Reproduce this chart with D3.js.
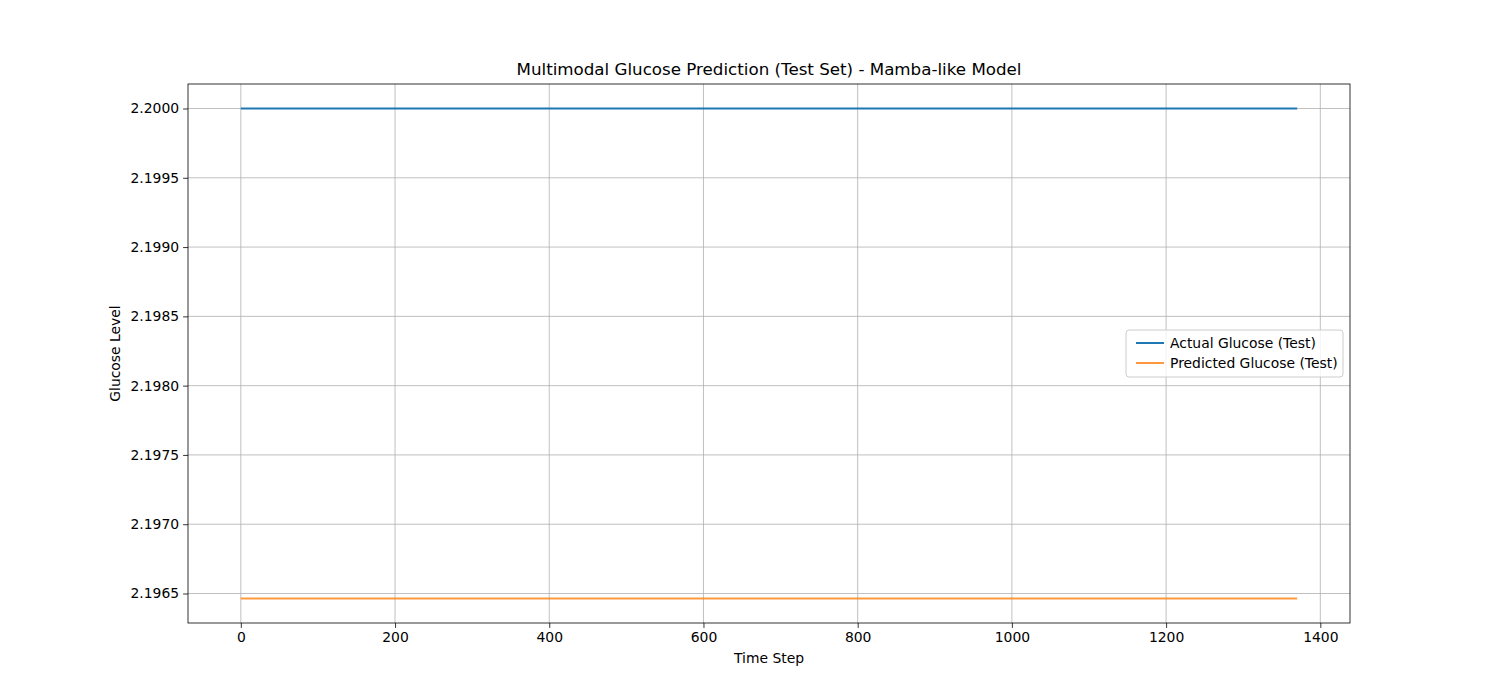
<!DOCTYPE html>
<html>
<head>
<meta charset="UTF-8">
<script src="https://d3js.org/d3.v7.min.js"></script>
<style>
    body{ margin: 0; background: white; }
    svg text{ font-family: "DejaVu Sans", sans-serif; }
</style>
</head>
<body>
<div id="chart"></div>
<script>
    // the model's output is flat over the whole test set, so two ends per series
    const steps = [0, 1370]
    const actual = [2.2, 2.2]
    const predicted = [2.196464, 2.196464]
    const xTicks = [0, 200, 400, 600, 800, 1000, 1200, 1400]
    const yTicks = [2.1965, 2.1970, 2.1975, 2.1980, 2.1985, 2.1990, 2.1995, 2.2000]
    const series = [
        {name: 'Actual Glucose (Test)', values: actual, color: '#1f77b4'},
        {name: 'Predicted Glucose (Test)', values: predicted, color: '#ff7f0e', opacity: 0.8}
    ]

    const L = 188, R = 1350, T = 84, B = 623

    const svg = d3.select('#chart').append('svg')
        .attr('width', 1500).attr('height', 700)

    const xPad = (d3.max(steps) - d3.min(steps)) * 0.05
    const x = d3.scaleLinear().domain([d3.min(steps) - xPad, d3.max(steps) + xPad]).range([L, R])
    const all = actual.concat(predicted)
    const yPad = (d3.max(all) - d3.min(all)) * 0.05
    const y = d3.scaleLinear().domain([d3.min(all) - yPad, d3.max(all) + yPad]).range([B, T])

    // grid
    svg.append('g').selectAll('line').data(xTicks).join('line')
        .attr('x1', d => x(d)).attr('x2', d => x(d)).attr('y1', T).attr('y2', B)
        .attr('stroke', '#b0b0b0').attr('stroke-width', 0.8)
    svg.append('g').selectAll('line').data(yTicks).join('line')
        .attr('y1', d => y(d)).attr('y2', d => y(d)).attr('x1', L).attr('x2', R)
        .attr('stroke', '#b0b0b0').attr('stroke-width', 0.8)

    const line = vals => d3.line().x((d, i) => x(steps[i])).y(d => y(d))(vals)
    series.forEach(s => {
        svg.append('path').attr('d', line(s.values)).attr('fill', 'none')
            .attr('stroke', s.color).attr('stroke-width', 2).attr('opacity', s.opacity || 1)
    })

    const xAxis = svg.append('g').attr('transform', `translate(0,${B})`)
        .call(d3.axisBottom(x).tickValues(xTicks).tickSize(4.9).tickPadding(4).tickFormat(d3.format('d')))
    const yAxis = svg.append('g').attr('transform', `translate(${L},0)`)
        .call(d3.axisLeft(y).tickValues(yTicks).tickSize(4.9).tickPadding(4).tickFormat(d3.format('.4f')))
    ;[xAxis, yAxis].forEach(a => {
        a.select('.domain').remove()
        a.selectAll('text').attr('font-size', 13.9).attr('fill', 'black')
        a.selectAll('line').attr('stroke', 'black').attr('stroke-width', 0.8)
    })

    svg.append('rect').attr('x', L).attr('y', T).attr('width', R - L).attr('height', B - T)
        .attr('fill', 'none').attr('stroke', 'black').attr('stroke-width', 0.8)

    svg.append('text').attr('x', (L + R) / 2).attr('y', T - 9).attr('text-anchor', 'middle')
        .attr('font-size', 16.7).text('Multimodal Glucose Prediction (Test Set) - Mamba-like Model')
    svg.append('text').attr('x', (L + R) / 2).attr('y', 663).attr('text-anchor', 'middle')
        .attr('font-size', 13.9).text('Time Step')
    svg.append('text').attr('transform', `translate(120,${(T + B) / 2}) rotate(-90)`)
        .attr('text-anchor', 'middle').attr('font-size', 13.9).text('Glucose Level')

    // legend
    const lg = svg.append('g').attr('transform', 'translate(1126,330)')
    lg.append('rect').attr('width', 217).attr('height', 47).attr('rx', 3)
        .attr('fill', 'white').attr('fill-opacity', 0.8).attr('stroke', '#cccccc')
    series.forEach((s, i) => {
        const yy = 13 + i * 20
        lg.append('line').attr('x1', 10).attr('x2', 38).attr('y1', yy).attr('y2', yy)
            .attr('stroke', s.color).attr('stroke-width', 2).attr('opacity', s.opacity || 1)
        lg.append('text').attr('x', 44).attr('y', yy + 5).attr('font-size', 13.9).text(s.name)
    })
</script>
</body>
</html>
